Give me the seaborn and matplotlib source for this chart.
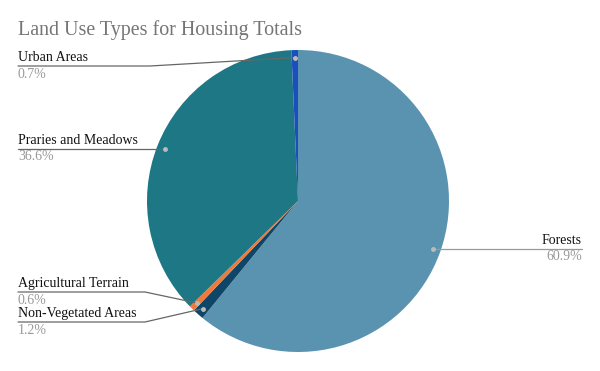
import numpy as np
import matplotlib
matplotlib.use("Agg")
import matplotlib.pyplot as plt
import seaborn as sns

# data, clockwise from 12 o'clock
labels = ["Forests", "Non-Vegetated Areas", "Agricultural Terrain",
          "Praries and Meadows", "Urban Areas"]
shares = [60.9, 1.2, 0.6, 36.6, 0.7]
colors = ["#5a93b0", "#0f4668", "#f07a3a", "#1e7785", "#1a4fbd"]

sns.set_theme(style="white")
plt.rcParams["font.family"] = ["Liberation Serif", "DejaVu Serif"]

W, H = 600, 371
fig = plt.figure(figsize=(6, 3.71), dpi=100)
ax = fig.add_axes([0, 0, 1, 1])


def py(y):
    # pixel row (top down) -> axes y
    return H - y


cx, cy, r = 298, py(201), 151
wedges, _ = ax.pie(shares, colors=colors, startangle=90, counterclock=False,
                   center=(cx, cy), radius=r, frame=True,
                   wedgeprops=dict(linewidth=0))
ax.set_xlim(0, W)
ax.set_ylim(0, H)
ax.set_aspect("equal")
ax.axis("off")

# label layout: (text x, underline y, elbow x, align)
layout = {
    "Urban Areas": (18, 66, 150, "left"),
    "Praries and Meadows": (18, 149, None, "left"),
    "Agricultural Terrain": (18, 292, 145, "left"),
    "Non-Vegetated Areas": (18, 322, 145, "left"),
    "Forests": (582, 249, None, "right"),
}

for w, lab, val in zip(wedges, labels, shares):
    mid = np.deg2rad((w.theta1 + w.theta2) / 2)
    dx = cx + 0.95 * r * np.cos(mid)
    dy = cy + 0.95 * r * np.sin(mid)
    tx, ly, ex, ha = layout[lab]
    if ex is None:
        xs = [dx, tx]
        ys = [py(ly), py(ly)]
    else:
        xs = [dx, ex, tx]
        ys = [dy, py(ly), py(ly)]
    lc = "#999999" if ha == "right" else "#666666"
    ax.plot(xs, ys, color=lc, lw=0.9, zorder=3)
    ax.plot(dx, dy if ex is not None else py(ly), "o", ms=2.5,
            color="#bbbbbb", zorder=4)
    ax.text(tx, py(ly) + 2, lab, ha=ha, va="bottom", fontsize=10,
            color="#111111")
    ax.text(tx, py(ly) - 1.5, f"{val}%", ha=ha, va="top", fontsize=10,
            color="#999999")

ax.text(18, py(30), "Land Use Types for Housing Totals", ha="left",
        va="center", fontsize=14.4, color="#757575")

fig.savefig("out.png", dpi=100)
